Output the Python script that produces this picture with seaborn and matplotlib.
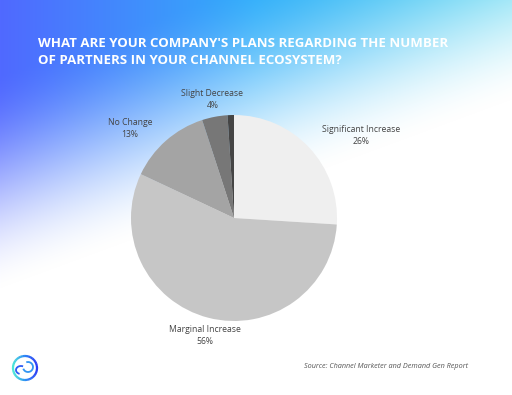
import numpy as np
import matplotlib
matplotlib.use("Agg")
import matplotlib.pyplot as plt
import seaborn as sns
from matplotlib.patches import Arc

# ---- data ----
categories = ["Significant Increase", "Marginal Increase", "No Change",
              "Slight Decrease", "Significant Decrease"]
values = [26, 56, 13, 4, 1]
shown_labels = ["Significant Increase\n26%", "Marginal Increase\n56%",
                "No Change\n13%", "Slight Decrease\n4%", ""]
slice_colors = ["#efefef", "#c6c6c6", "#a4a4a4", "#777777", "#454545"]
title = "WHAT ARE YOUR COMPANY'S PLANS REGARDING THE NUMBER\nOF PARTNERS IN YOUR CHANNEL ECOSYSTEM?"
source = "Source: Channel Marketer and Demand Gen Report"

sns.set_theme(style="white")
plt.rcParams['font.family'] = ['Open Sans', 'DejaVu Sans']

W, H, DPI = 512, 395, 100
fig = plt.figure(figsize=(W / DPI, H / DPI), dpi=DPI)

# ---- gradient background ----
bg = fig.add_axes([0, 0, 1, 1])
bg.set_axis_off()
xs = np.linspace(0, 1, W)
ys = np.linspace(0, 1, H)
X, Y = np.meshgrid(xs, ys)
c0 = np.array([80, 105, 255]) / 255
c1 = np.array([50, 175, 250]) / 255
c2 = np.array([60, 205, 238]) / 255
t = X[..., None]
base = np.where(t < 0.5, c0 + (c1 - c0) * (t / 0.5), c1 + (c2 - c1) * ((t - 0.5) / 0.5))
u = 1.15 * Y + 0.55 * X
w = np.clip((u - 0.22) / 0.62, 0, 1)
w = w * w * (3 - 2 * w) * 0.8 + 0.2 * w
img = base * (1 - w[..., None]) + w[..., None]
bg.imshow(img, extent=[0, 1, 0, 1], origin="upper", aspect="auto")
bg.set_xlim(0, 1)
bg.set_ylim(0, 1)

# title
fig.text(38 / W, 1 - 37 / H, title, color="white", fontsize=9.5, fontweight="bold",
         ha="left", va="top", linespacing=1.42)
# source
fig.text(468 / W, 1 - 366 / H, source, color="#555555", fontsize=5.2, style="italic",
         ha="right", va="center")

# logo ring
logo = fig.add_axes([(25 - 16) / W, (395 - 368 - 16) / H, 32 / W, 32 / H])
logo.set_axis_off()
logo.set_xlim(-16, 16)
logo.set_ylim(-16, 16)
cmap = matplotlib.colors.LinearSegmentedColormap.from_list("lg", ["#2b3cf5", "#2f8cf5", "#4de8d8"])
n = 36
for i in range(n):
    a0 = 180 + 360 * i / n
    logo.add_patch(Arc((0, 0), 24, 24, theta1=a0, theta2=a0 + 360 / n + 1,
                       color=cmap(0.5 - 0.5 * np.cos(np.radians(a0))), lw=1.6))
logo.add_patch(Arc((3, 1), 10, 10, theta1=200, theta2=110, color=cmap(0.55), lw=1.3))
logo.add_patch(Arc((-4, -2), 10, 8, theta1=60, theta2=250, color=cmap(0.2), lw=1.3))

# ---- pie ----
cx, cy, R = 234, 218, 103
S = 300
ax = fig.add_axes([(cx - S / 2) / W, (H - cy - S / 2) / H, S / W, S / H])
ax.set_facecolor("none")
lim = S / 2 / R
wedges, _ = ax.pie(values, colors=slice_colors, startangle=90, counterclock=False,
                   wedgeprops=dict(linewidth=0))
ax.set_xlim(-lim, lim)
ax.set_ylim(-lim, lim)
ax.set_aspect("equal")
ax.set_axis_off()

# label placement (text positions, relative to unit radius)
label_pos = [(1.23, 0.80), (-0.28, -1.14), (-1.01, 0.87), (-0.21, 1.15), (0, 0)]
for lab, (px, py) in zip(shown_labels, label_pos):
    if lab:
        ax.text(px, py, lab, ha="center", va="center", fontsize=6.2,
                color="#444444", linespacing=1.5)

fig.savefig("out.png", dpi=DPI)
